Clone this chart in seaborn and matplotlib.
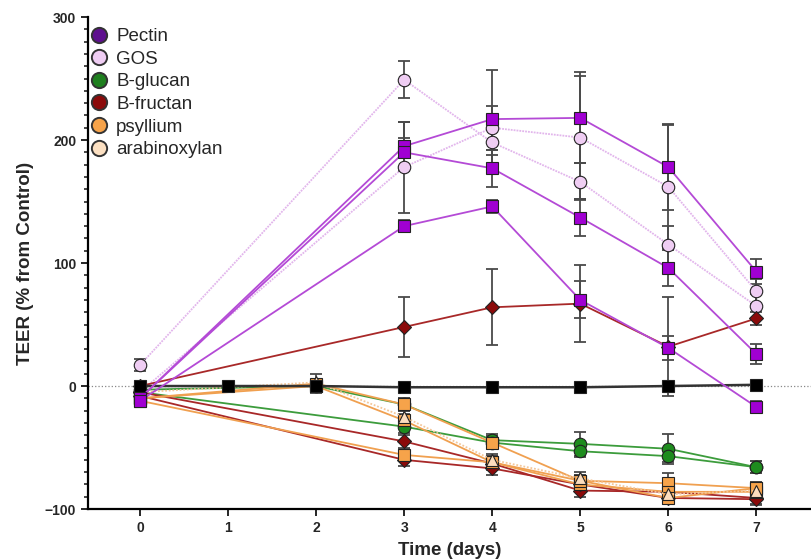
import numpy as np
import pandas as pd
import matplotlib.pyplot as plt
import seaborn as sns
from matplotlib.lines import Line2D
from matplotlib.ticker import MultipleLocator

nan = np.nan
days = [0, 1, 2, 3, 4, 5, 6, 7]

# values (% from control), nan = no point that day
control = [0, 0, 0, -1, -1, -1, 0, 1]
pectin_a = [-10, nan, nan, 195, 217, 218, 178, 93]
pectin_b = [-10, nan, nan, 190, 177, 137, 96, 26]
pectin_c = [-12, nan, nan, 130, 146, 70, 31, -17]
gos_a = [17, nan, nan, 249, 198, 166, 115, 65]
gos_b = [-5, nan, nan, 178, 210, 202, 162, 77]
glucan_a = [-3, nan, 0, -15, -44, -47, -51, -66]
glucan_b = [-5, nan, nan, -33, -46, -53, -57, -66]
fructan_a = [0, nan, nan, 48, 64, 67, 32, 55]
fructan_b = [-5, nan, nan, -45, -63, -85, -86, -91]
fructan_c = [-8, nan, nan, -60, -67, -80, -91, -92]
psyllium_a = [-10, nan, 2, -15, -46, -77, -79, -83]
psyllium_b = [-10, nan, 0, -28, -62, -80, -86, -86]
psyllium_c = [-12, nan, nan, -56, -62, -77, -91, -83]
arabino_a = [-5, nan, 3, -25, -60, -75, -88, -85]

# error bars (SEM)
err_control = [3, 2, 2, 2, 2, 2, 2, 2]
err_pectin_a = [nan, nan, nan, 20, 40, 37, 35, 10]
err_pectin_b = [nan, nan, nan, 12, 15, 15, 15, 8]
err_pectin_c = [nan, nan, nan, 5, 5, 15, 10, 5]
err_gos_a = [5, nan, nan, 15, 10, 15, 15, 10]
err_gos_b = [nan, nan, nan, 37, 18, 50, 50, 10]
err_glucan_a = [nan, nan, nan, 5, 5, 10, 12, 5]
err_glucan_b = [nan, nan, nan, 5, 5, 5, 5, 5]
err_fructan_a = [nan, nan, nan, 24, 31, 31, 40, 5]
err_fructan_b = [nan, nan, nan, 5, 5, 5, 5, 5]
err_fructan_c = [nan, nan, nan, 5, 5, 5, 5, 5]
err_psyllium_a = [nan, nan, 8, 5, 5, 5, 8, 5]
err_psyllium_b = [nan, nan, nan, 5, 5, 5, 8, 5]
err_psyllium_c = [nan, nan, nan, 5, 5, 5, 5, 5]
err_arabino_a = [nan, nan, nan, 5, 5, 5, 5, 5]

legend_labels = ["Pectin", "GOS", "B-glucan", "B-fructan", "psyllium", "arabinoxylan"]

series = [
    ("gos_a", "GOS", gos_a, err_gos_a),
    ("gos_b", "GOS", gos_b, err_gos_b),
    ("glucan_a", "B-glucan", glucan_a, err_glucan_a),
    ("glucan_b", "B-glucan", glucan_b, err_glucan_b),
    ("fructan_a", "B-fructan", fructan_a, err_fructan_a),
    ("fructan_b", "B-fructan", fructan_b, err_fructan_b),
    ("fructan_c", "B-fructan", fructan_c, err_fructan_c),
    ("psyllium_a", "psyllium", psyllium_a, err_psyllium_a),
    ("psyllium_b", "psyllium", psyllium_b, err_psyllium_b),
    ("psyllium_c", "psyllium", psyllium_c, err_psyllium_c),
    ("arabino_a", "arabinoxylan", arabino_a, err_arabino_a),
    ("control", "Control", control, err_control),
    ("pectin_a", "Pectin", pectin_a, err_pectin_a),
    ("pectin_b", "Pectin", pectin_b, err_pectin_b),
    ("pectin_c", "Pectin", pectin_c, err_pectin_c),
]

rows = []
for name, fiber, vals, errs in series:
    for d, v, e in zip(days, vals, errs):
        rows.append({"series": name, "fiber": fiber, "day": d, "value": v, "err": e})
df = pd.DataFrame(rows).dropna(subset=["value"])

# styles per fiber: marker, marker face, line colour, line style
styles = {
    "Pectin": ("s", "#A000D2", "#B44AD6", "-"),
    "GOS": ("o", "#EFCDF3", "#E2B6EC", (0, (1, 0.6))),
    "B-glucan": ("o", "#1E8C1E", "#3C9C3C", "-"),
    "B-fructan": ("D", "#8B0A0A", "#A82828", "-"),
    "psyllium": ("s", "#F6A34A", "#F0A050", "-"),
    "arabinoxylan": ("^", "#FCDDBE", "#F4C79A", (0, (1, 1))),
    "Control": ("s", "#000000", "#333333", "-"),
}
legend_colors = {
    "Pectin": "#5E108E",
    "GOS": "#EFCDF3",
    "B-glucan": "#1E7F1E",
    "B-fructan": "#8B0A0A",
    "psyllium": "#F6A34A",
    "arabinoxylan": "#FCE0C2",
}

sns.set_style("ticks")
plt.rcParams["font.family"] = ["Liberation Sans", "DejaVu Sans"]

fig = plt.figure(figsize=(8.11, 5.6), dpi=100)
ax = fig.add_axes([0.1085, 0.091, 0.8915, 0.8786])

ax.axhline(0, color="#888888", ls=":", lw=0.9, zorder=0)

for i, (name, fiber, vals, errs) in enumerate(series):
    sub = df[df["series"] == name]
    marker, face, lcol, ls = styles[fiber]
    ms = 7 if marker == "D" else 9
    lw = 1.8 if fiber == "Control" else 1.3
    ax.errorbar(sub["day"], sub["value"], yerr=sub["err"], fmt="none",
                ecolor="#4a4a4a", elinewidth=1.3, capsize=4, capthick=1.3, zorder=2)
    sns.lineplot(data=sub, x="day", y="value", ax=ax, color=lcol, linestyle=ls,
                 linewidth=lw, marker=marker, markersize=ms, markerfacecolor=face,
                 markeredgecolor="#222222", markeredgewidth=0.8, estimator=None,
                 sort=True, legend=False, zorder=3 + i * 0.01)

ax.set_xlim(-0.59, 7.62)
ax.set_ylim(-100, 300)
ax.set_xticks(days)
ax.yaxis.set_major_locator(MultipleLocator(100))
ax.yaxis.set_minor_locator(MultipleLocator(10))
for s in ["top", "right"]:
    ax.spines[s].set_visible(False)
for s in ["left", "bottom"]:
    ax.spines[s].set_linewidth(1.6)
    ax.spines[s].set_color("black")
ax.tick_params(axis="both", which="major", length=5, width=1.4, labelsize=10, direction="out")
ax.tick_params(axis="y", which="minor", length=3, width=1.2)
for lab in ax.get_xticklabels() + ax.get_yticklabels():
    lab.set_fontweight("bold")

ax.set_xlabel("Time (days)", fontsize=13.5, fontweight="bold", labelpad=5)
ax.set_ylabel("TEER (% from Control)", fontsize=13.5, fontweight="bold", labelpad=8)

handles = [Line2D([], [], marker="o", ls="none", markersize=11,
                  markerfacecolor=legend_colors[l], markeredgecolor="#333333",
                  markeredgewidth=1.4) for l in legend_labels]
ax.legend(handles, legend_labels, loc="upper left", bbox_to_anchor=(-0.018, 1.004),
          frameon=False, fontsize=13.5, handletextpad=0.3, labelspacing=0.29,
          handlelength=1.2, borderaxespad=0.3)

fig.savefig("out.png", dpi=100)
